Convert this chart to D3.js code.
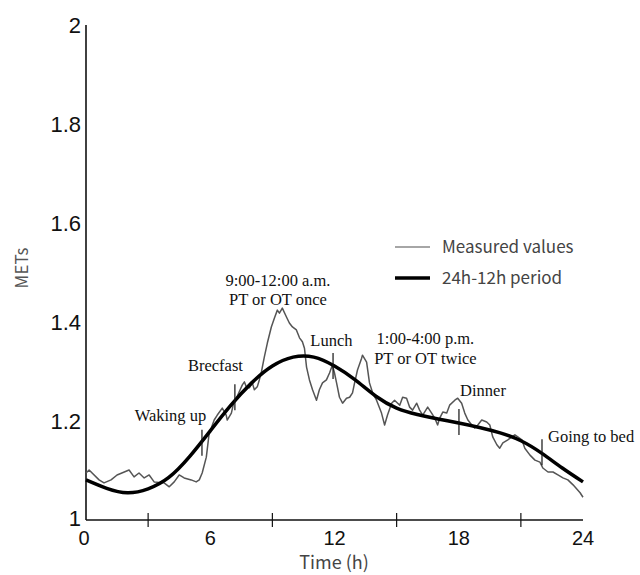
<!DOCTYPE html>
<meta charset="utf-8">

<style>
  body { margin: 0; background: #fff; }
  .tick-y { font-family: "Liberation Sans", Arial, sans-serif; font-size: 22px; fill: #111; }
  .tick-x { font-family: "Liberation Sans", Arial, sans-serif; font-size: 20px; fill: #111; }
  .note   { font-family: "Liberation Serif", "Times New Roman", serif; font-size: 16.5px; fill: #111; }
  .legend { font-family: "Noto Sans CJK JP", "Noto Sans", sans-serif; font-size: 17px; fill: #444; }
</style>

<svg class="chart"></svg>

<script src="https://d3js.org/d3.v7.min.js"></script>
<script>

  var width  = 640;
  var height = 575;

  // y axis labels and x axis labels / minor ticks
  var yLabels = [1, 1.2, 1.4, 1.6, 1.8, 2];
  var xLabels = [0, 6, 12, 18, 24];
  var xTicks  = [3, 9, 15, 21];

  // measured METs (hour, value)
  var measuredHours = [
    0, 0.15, 0.63, 0.87, 1.21, 1.5, 2.08, 2.32, 2.56, 2.81, 3.05, 3.29, 3.77, 4.02, 4.26, 4.5, 4.74,
    5.08, 5.32, 5.47, 5.61, 5.81, 5.95, 6.05, 6.19, 6.34, 6.58, 6.77, 6.82, 7.02, 7.16, 7.26, 7.4,
    7.55, 7.65, 7.74, 7.89, 8.03, 8.13, 8.27, 8.37, 8.47, 8.61, 8.76, 8.95, 9.1, 9.24, 9.34, 9.48,
    9.68, 9.82, 9.97, 10.16, 10.31, 10.45, 10.55, 10.65, 10.79, 10.94, 11.13, 11.27, 11.42, 11.61,
    11.76, 11.9, 12.0, 12.1, 12.24, 12.39, 12.58, 12.73, 12.87, 12.97, 13.11, 13.31, 13.35, 13.55,
    13.69, 13.84, 14.03, 14.27, 14.42, 14.56, 14.76, 14.9, 15.05, 15.15, 15.29, 15.48, 15.63, 15.77,
    15.97, 16.11, 16.26, 16.5, 16.69, 16.84, 16.98, 17.08, 17.23, 17.42, 17.56, 17.81, 17.95, 18.14,
    18.29, 18.44, 18.63, 18.77, 18.92, 19.11, 19.35, 19.5, 19.64, 19.84, 19.98, 20.13, 20.37, 20.56,
    20.71, 20.85, 21.05, 21.19, 21.44, 21.68, 21.92, 22.06, 22.31, 22.55, 22.79, 23.03, 23.27, 23.52,
    23.86, 24
  ];
  var measuredMets = [
    1.095, 1.101, 1.081, 1.075, 1.081, 1.091, 1.101, 1.087, 1.095, 1.085, 1.091, 1.077, 1.075, 1.067, 1.077, 1.091, 1.085,
    1.081, 1.077, 1.081, 1.095, 1.127, 1.176, 1.186, 1.202, 1.212, 1.226, 1.212, 1.202, 1.216, 1.242, 1.246, 1.259,
    1.273, 1.279, 1.269, 1.267, 1.277, 1.263, 1.269, 1.283, 1.299, 1.329, 1.358, 1.390, 1.408, 1.424, 1.418, 1.428,
    1.410, 1.398, 1.390, 1.384, 1.368, 1.360, 1.347, 1.309, 1.283, 1.263, 1.242, 1.263, 1.277, 1.283,
    1.297, 1.313, 1.297, 1.277, 1.248, 1.236, 1.246, 1.248, 1.257, 1.277, 1.303, 1.327, 1.333, 1.319,
    1.277, 1.257, 1.242, 1.216, 1.192, 1.212, 1.236, 1.242, 1.236, 1.232, 1.248, 1.246, 1.228, 1.222,
    1.236, 1.222, 1.212, 1.228, 1.216, 1.206, 1.192, 1.206, 1.218, 1.216, 1.232, 1.242, 1.246, 1.236,
    1.216, 1.202, 1.192, 1.186, 1.192, 1.202, 1.198, 1.192, 1.168, 1.152, 1.145, 1.156, 1.162, 1.168,
    1.172, 1.168, 1.162, 1.145, 1.131, 1.121, 1.117, 1.105, 1.097, 1.097, 1.091, 1.085, 1.081, 1.071,
    1.055, 1.046
  ];

  // 24h-12h period fit, hourly
  var fitHours = d3.range(0, 25);
  var fitMets  = [
    1.081, 1.064, 1.055, 1.063, 1.086, 1.128, 1.180, 1.232, 1.277, 1.311, 1.329, 1.329, 1.311,
    1.283, 1.250, 1.226, 1.213, 1.204, 1.196, 1.187, 1.176, 1.160, 1.135, 1.105, 1.077
  ];

  // daily events: tick on the fit line
  var eventLabels = ["Waking up", "Brecfast", "Lunch", "Dinner", "Going to bed"];
  var eventHours  = [5.6, 7.19, 11.93, 18.01, 22.02];
  var eventMets   = [1.156, 1.248, 1.311, 1.198, 1.137];

  // annotation texts (hour, METs of baseline, anchor)
  var noteTexts   = ["Waking up", "Brecfast", "9:00-12:00 a.m.", "PT or OT once", "Lunch",
                     "1:00-4:00 p.m.", "PT or OT twice", "Dinner", "Going to bed"];
  var noteHours   = [4.08, 6.25, 9.27, 9.27, 11.85, 16.39, 16.39, 19.17, 22.31];
  var noteMets    = [1.200, 1.301, 1.473, 1.434, 1.352, 1.356, 1.315, 1.251, 1.158];
  var noteAnchors = ["middle", "middle", "middle", "middle", "middle", "middle", "middle", "middle", "start"];

  var legendLabels = ["Measured values", "24h-12h period"];

  var x = d3.scaleLinear().domain([0, 24]).range([86, 583]);
  var y = d3.scaleLinear().domain([1, 2]).range([520, 25]);

  var chart = d3.select(".chart")
      .attr("width", width)
      .attr("height", height);

  // axes
  chart.append("line")
      .attr("x1", x(0)).attr("x2", x(0))
      .attr("y1", y(2)).attr("y2", y(1))
      .attr("stroke", "#111").attr("stroke-width", 1.6);
  chart.append("line")
      .attr("x1", x(0)).attr("x2", x(24))
      .attr("y1", y(1)).attr("y2", y(1))
      .attr("stroke", "#111").attr("stroke-width", 1.6);

  chart.append("g").selectAll("line")
    .data(xTicks)
    .enter().append("line")
      .attr("x1", function(d) { return x(d); })
      .attr("x2", function(d) { return x(d); })
      .attr("y1", y(1) - 7)
      .attr("y2", y(1) + 7)
      .attr("stroke", "#111").attr("stroke-width", 1.2);

  chart.append("g").selectAll("text")
    .data(yLabels)
    .enter().append("text")
      .attr("class", "tick-y")
      .attr("x", x(0) - 5)
      .attr("y", function(d) { return y(d) + (d === 1 ? 6 : 8); })
      .attr("text-anchor", "end")
      .text(function(d) { return d; });

  chart.append("g").selectAll("text")
    .data(xLabels)
    .enter().append("text")
      .attr("class", "tick-x")
      .attr("x", function(d) { return x(d) - (d === 0 ? 2 : 0); })
      .attr("y", 545)
      .attr("text-anchor", "middle")
      .text(function(d) { return d; });

  chart.append("text")
      .attr("x", 334).attr("y", 569)
      .attr("text-anchor", "middle")
      .style("font-family", "'Noto Sans CJK JP', 'Noto Sans', sans-serif")
      .style("font-size", "18px")
      .style("fill", "#444")
      .text("Time (h)");

  chart.append("text")
      .attr("transform", "translate(28," + 268 + ") rotate(-90)")
      .attr("text-anchor", "middle")
      .style("font-family", "'Noto Sans CJK JP', 'Noto Sans', sans-serif")
      .style("font-size", "17px")
      .style("fill", "#555")
      .text("METs");

  // lines
  var measured = measuredHours.map(function(h, i) { return [h, measuredMets[i]]; });
  var fit      = fitHours.map(function(h, i) { return [h, fitMets[i]]; });

  var line = d3.line()
      .x(function(d) { return x(d[0]); })
      .y(function(d) { return y(d[1]); });

  chart.append("path")
      .datum(measured)
      .attr("d", line)
      .attr("fill", "none")
      .attr("stroke", "#555")
      .attr("stroke-width", 1.5)
      .attr("stroke-linejoin", "round");

  chart.append("path")
      .datum(fit)
      .attr("d", line.curve(d3.curveNatural))
      .attr("fill", "none")
      .attr("stroke", "#000")
      .attr("stroke-width", 3.5);

  // event ticks
  chart.append("g").selectAll("line")
    .data(eventHours)
    .enter().append("line")
      .attr("x1", function(d) { return x(d); })
      .attr("x2", function(d) { return x(d); })
      .attr("y1", function(d, i) { return y(eventMets[i]) - 13; })
      .attr("y2", function(d, i) { return y(eventMets[i]) + 13; })
      .attr("stroke", "#111").attr("stroke-width", 1.2);

  chart.append("g").selectAll("text")
    .data(noteTexts)
    .enter().append("text")
      .attr("class", "note")
      .attr("x", function(d, i) { return x(noteHours[i]); })
      .attr("y", function(d, i) { return y(noteMets[i]); })
      .attr("text-anchor", function(d, i) { return noteAnchors[i]; })
      .text(function(d) { return d; });

  // legend
  var legend = chart.append("g").attr("transform", "translate(395,247)");

  legend.selectAll("line")
    .data(legendLabels)
    .enter().append("line")
      .attr("x1", 0).attr("x2", 35)
      .attr("y1", function(d, i) { return i * 31; })
      .attr("y2", function(d, i) { return i * 31; })
      .attr("stroke", function(d, i) { return i === 0 ? "#888" : "#000"; })
      .attr("stroke-width", function(d, i) { return i === 0 ? 1.5 : 3.5; });

  legend.selectAll("text")
    .data(legendLabels)
    .enter().append("text")
      .attr("class", "legend")
      .attr("x", 47)
      .attr("y", function(d, i) { return i * 31 + 6; })
      .text(function(d) { return d; });

</script>
